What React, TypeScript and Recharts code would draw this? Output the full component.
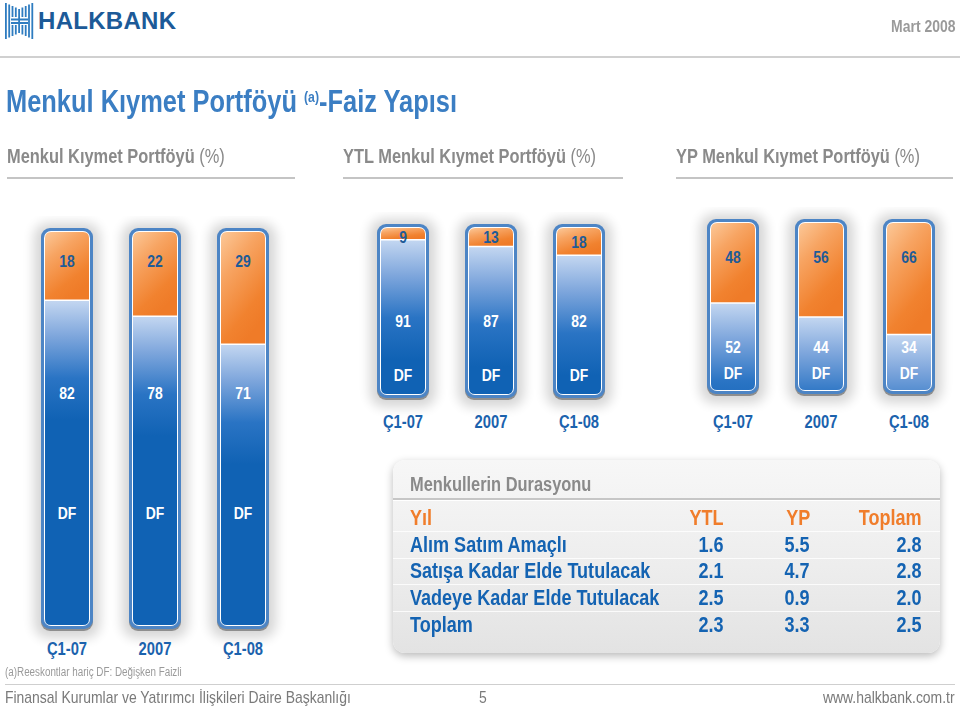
import React from 'react';
import { Bar, BarChart, LabelList, XAxis, YAxis } from 'recharts';

const FONT = "'Liberation Sans', Arial, sans-serif";
const K = 0.82; // horizontal squeeze to mimic a condensed face

// chart data (% shares, Sabit = fixed rate on top / DF = floating rate at bottom)
const periods = ['Ç1-07', '2007', 'Ç1-08'];
const totalFixed = [18, 22, 29];
const totalFloat = [82, 78, 71];
const ytlFixed = [9, 13, 18];
const ytlFloat = [91, 87, 82];
const ypFixed = [48, 56, 66];
const ypFloat = [52, 44, 34];

// duration table
const durationHeader = ['Yıl', 'YTL', 'YP', 'Toplam'];
const durationRows = ['Alım Satım Amaçlı', 'Satışa Kadar Elde Tutulacak', 'Vadeye Kadar Elde Tutulacak', 'Toplam'];
const durationYTL = [1.6, 2.1, 2.5, 2.3];
const durationYP = [5.5, 4.7, 0.9, 3.3];
const durationTotal = [2.8, 2.8, 2.0, 2.5];

interface ChartCfg {
  id: string;
  left: number;
  plotTop: number;
  plotHeight: number;
  fixedLabelY: number | null;
  floatLabelY: number;
  dfLabelY: number;
  tickY: number;
}

const TOP_PAD = 12;
const AXIS_H = 40;

function CText({ x, y, fill, size, children }: { x: number; y: number; fill: string; size: number; children: React.ReactNode }) {
  return (
    <text
      transform={`translate(${x} ${y}) scale(${K} 1)`}
      textAnchor="middle"
      dominantBaseline="central"
      fill={fill}
      fontFamily={FONT}
      fontWeight={700}
      fontSize={size}
    >
      {children}
    </text>
  );
}

function Frame(props: any) {
  const { x, y, width, height, fid } = props;
  return (
    <g>
      <rect x={x - 7} y={y - 5} width={width + 14} height={height + 14} rx={14} fill="#000" opacity={0.16} filter={`url(#${fid}-halo)`} />
      <rect x={x} y={y + 2} width={width} height={height} rx={9} fill="#8e8e8e" />
      <rect x={x} y={y} width={width} height={height} rx={9} fill="#4d85c5" />
      <rect x={x + 3} y={y + 3} width={width - 6} height={height - 6} rx={7} fill="#ffffff" />
    </g>
  );
}

function roundedPath(x: number, y: number, w: number, h: number, r: number, top: boolean) {
  if (h <= 0) return '';
  const rr = Math.min(r, h);
  if (top) {
    return `M${x},${y + h} L${x},${y + rr} Q${x},${y} ${x + rr},${y} L${x + w - rr},${y} Q${x + w},${y} ${x + w},${y + rr} L${x + w},${y + h} Z`;
  }
  return `M${x},${y} L${x + w},${y} L${x + w},${y + h - rr} Q${x + w},${y + h} ${x + w - rr},${y + h} L${x + rr},${y + h} Q${x},${y + h} ${x},${y + h - rr} Z`;
}

function FloatSegment(props: any) {
  const { x, y, width, height, index, fid } = props;
  const sx = x + 4;
  const sw = width - 8;
  const sh = height - 4;
  const gid = `${fid}-blue-${index}`;
  return (
    <g>
      <defs>
        <linearGradient id={gid} gradientUnits="userSpaceOnUse" x1={0} y1={y} x2={0} y2={y + 120}>
          <stop offset="0" stopColor="#c4d7f1" />
          <stop offset="0.3" stopColor="#7ea6dc" />
          <stop offset="0.65" stopColor="#2a74c4" />
          <stop offset="1" stopColor="#1062b4" />
        </linearGradient>
      </defs>
      <path d={roundedPath(sx, y, sw, sh, 6, false)} fill={`url(#${gid})`} />
    </g>
  );
}

function FixedSegment(props: any) {
  const { x, y, width, height, fid } = props;
  const sx = x + 4;
  const sw = width - 8;
  const sy = y + 4;
  const sh = height - 4;
  return (
    <g>
      <path d={roundedPath(sx, sy, sw, sh, 6, true)} fill={`url(#${fid}-orange)`} />
      <line x1={sx} x2={sx + sw} y1={y + height} y2={y + height} stroke="#ffffff" strokeWidth={1.5} />
    </g>
  );
}

function PortfolioBars({ cfg, fixed, float }: { cfg: ChartCfg; fixed: number[]; float: number[] }) {
  const data = periods.map((p, i) => ({ period: p, fixed: fixed[i], float: float[i] }));
  const chartTop = cfg.plotTop - TOP_PAD;
  const height = TOP_PAD + cfg.plotHeight + AXIS_H;
  const plotBottom = cfg.plotTop + cfg.plotHeight;
  return (
    <div style={{ position: 'absolute', left: cfg.left, top: chartTop }}>
      <BarChart
        width={264}
        height={height}
        data={data}
        margin={{ top: TOP_PAD, right: 0, bottom: 0, left: 0 }}
        barSize={52}
        style={{ overflow: 'visible' }}
      >
        <defs>
          <filter id={`${cfg.id}-halo`} x="-50%" y="-20%" width="200%" height="140%">
            <feGaussianBlur stdDeviation="6" />
          </filter>
          <linearGradient id={`${cfg.id}-orange`} x1="0" y1="0" x2="0.5" y2="1">
            <stop offset="0" stopColor="#fcc898" />
            <stop offset="0.35" stopColor="#f7a462" />
            <stop offset="0.8" stopColor="#f1822f" />
            <stop offset="1" stopColor="#ef7b28" />
          </linearGradient>
        </defs>
        <XAxis
          dataKey="period"
          axisLine={false}
          tickLine={false}
          tickSize={0}
          tickMargin={0}
          height={AXIS_H}
          interval={0}
          tick={(p: any) => (
            <CText x={p.x} y={p.y + (cfg.tickY - plotBottom)} fill="#1b62ad" size={18}>
              {p.payload.value}
            </CText>
          )}
        />
        <YAxis hide domain={[0, 100]} />
        <Bar
          dataKey="float"
          stackId="s"
          isAnimationActive={false}
          background={(p: any) => <Frame {...p} fid={cfg.id} />}
          shape={(p: any) => <FloatSegment {...p} fid={cfg.id} />}
        >
          <LabelList
            dataKey="float"
            content={(p: any) => {
              const cx = Number(p.x) + Number(p.width) / 2;
              return (
                <g>
                  <CText x={cx} y={cfg.floatLabelY - chartTop} fill="#ffffff" size={17}>{p.value}</CText>
                  <CText x={cx} y={cfg.dfLabelY - chartTop} fill="#ffffff" size={17}>DF</CText>
                </g>
              );
            }}
          />
        </Bar>
        <Bar
          dataKey="fixed"
          stackId="s"
          isAnimationActive={false}
          shape={(p: any) => <FixedSegment {...p} fid={cfg.id} />}
        >
          <LabelList
            dataKey="fixed"
            content={(p: any) => {
              const cx = Number(p.x) + Number(p.width) / 2;
              const cy =
                cfg.fixedLabelY != null
                  ? cfg.fixedLabelY - chartTop
                  : Math.max(Number(p.y) + 2 + Number(p.height) / 2, TOP_PAD + 13);
              return (
                <CText x={cx} y={cy} fill="#1e5b97" size={17}>
                  {p.value}
                </CText>
              );
            }}
          />
        </Bar>
      </BarChart>
    </div>
  );
}

const totalCfg: ChartCfg = { id: 'tot', left: 23, plotTop: 228, plotHeight: 401, fixedLabelY: 261, floatLabelY: 393, dfLabelY: 513, tickY: 648 };
const ytlCfg: ChartCfg = { id: 'ytl', left: 359, plotTop: 224, plotHeight: 174, fixedLabelY: null, floatLabelY: 321, dfLabelY: 375, tickY: 421 };
const ypCfg: ChartCfg = { id: 'yp', left: 689, plotTop: 219, plotHeight: 175, fixedLabelY: 257, floatLabelY: 347, dfLabelY: 373, tickY: 421 };

const squeezeL: React.CSSProperties = { transform: `scaleX(${K})`, transformOrigin: 'left top', whiteSpace: 'nowrap' };
const squeezeR: React.CSSProperties = { transform: `scaleX(${K})`, transformOrigin: 'right top', whiteSpace: 'nowrap' };

function SectionHeader({ left, width, title }: { left: number; width: number; title: string }) {
  return (
    <>
      <div
        style={{
          position: 'absolute',
          left,
          top: 144,
          fontFamily: FONT,
          fontSize: 20,
          color: '#8a8a8a',
          lineHeight: '24px',
          ...squeezeL,
        }}
      >
        <span style={{ fontWeight: 700 }}>{title}</span>
        <span> (%)</span>
      </div>
      <div style={{ position: 'absolute', left, top: 177, width, height: 2, background: '#c4c4c4' }} />
    </>
  );
}

function Logo() {
  const stripes = [0, 1, 2, 3, 4, 5, 6, 7, 8];
  return (
    <div style={{ position: 'absolute', left: 4, top: 3, display: 'flex', alignItems: 'center' }}>
      <svg width={31} height={36}>
        {stripes.map((i) => {
          const x = 1 + i * 3.3;
          const edge = Math.abs(i - 4);
          const inset = (4 - edge) * 1.5;
          if (edge <= 2 && edge >= 1) {
            return (
              <g key={i} fill="#2e7cc0">
                <rect x={x} y={inset} width={1.8} height={14 - inset} />
                <rect x={x} y={22} width={1.8} height={14 - inset} />
              </g>
            );
          }
          return <rect key={i} x={x} y={inset} width={1.8} height={36 - inset * 2} fill="#2e7cc0" />;
        })}
        <rect x={7} y={15.5} width={17} height={2} fill="#2e7cc0" />
        <rect x={7} y={19} width={17} height={2} fill="#2e7cc0" />
      </svg>
      <span
        style={{
          marginLeft: 3,
          fontFamily: FONT,
          fontWeight: 700,
          fontSize: 24,
          color: '#1c5a98',
          letterSpacing: 0.3,
        }}
      >
        HALKBANK
      </span>
    </div>
  );
}

export default function App() {
  const rowTop = [58, 85, 111, 138, 165];
  const colRight = [331, 417, 529];
  return (
    <div style={{ position: 'absolute', left: 0, top: 0, width: 960, height: 711, background: '#ffffff', overflow: 'hidden' }}>
      <Logo />
      <div style={{ position: 'absolute', right: 5, top: 17, fontFamily: FONT, fontSize: 17, color: '#9a9a9a', fontWeight: 700, ...squeezeR }}>
        Mart 2008
      </div>
      <div style={{ position: 'absolute', left: 0, top: 56, width: 960, height: 2, background: '#d0d0d0' }} />

      <div
        style={{
          position: 'absolute',
          left: 6,
          top: 78,
          fontFamily: FONT,
          fontWeight: 700,
          fontSize: 31,
          color: '#3b7ec3',
          lineHeight: '38px',
          ...squeezeL,
        }}
      >
        Menkul Kıymet Portföyü <span style={{ fontSize: 15, verticalAlign: 10 }}>(a)</span>-Faiz Yapısı
      </div>

      <SectionHeader left={7} width={288} title="Menkul Kıymet Portföyü" />
      <SectionHeader left={343} width={280} title="YTL Menkul Kıymet Portföyü" />
      <SectionHeader left={676} width={277} title="YP Menkul Kıymet Portföyü" />

      <PortfolioBars cfg={totalCfg} fixed={totalFixed} float={totalFloat} />
      <PortfolioBars cfg={ytlCfg} fixed={ytlFixed} float={ytlFloat} />
      <PortfolioBars cfg={ypCfg} fixed={ypFixed} float={ypFloat} />

      <div
        style={{
          position: 'absolute',
          left: 393,
          top: 460,
          width: 547,
          height: 193,
          borderRadius: 12,
          background: 'linear-gradient(180deg, #f7f7f7 0%, #ececec 60%, #e3e3e3 100%)',
          boxShadow: '0 3px 9px rgba(0,0,0,0.28)',
          fontFamily: FONT,
          fontWeight: 700,
        }}
      >
        <div style={{ position: 'absolute', left: 17, top: 12, fontSize: 20, color: '#8a8a8a', lineHeight: '24px', ...squeezeL }}>
          Menkullerin Durasyonu
        </div>
        <div style={{ position: 'absolute', left: 0, top: 38, width: 547, height: 2, background: '#c6c6c6', borderBottom: '1px solid #ffffff' }} />
        {[0, 1, 2, 3].map((i) => (
          <div key={i} style={{ position: 'absolute', left: 0, top: rowTop[i] + 13, width: 547, height: 1, background: '#ffffff', opacity: 0.8 }} />
        ))}
        {durationHeader.map((h, c) =>
          c === 0 ? (
            <div key={h} style={{ position: 'absolute', left: 17, top: rowTop[0] - 13, fontSize: 22, lineHeight: '26px', color: '#f07d2b', ...squeezeL }}>
              {h}
            </div>
          ) : (
            <div
              key={h}
              style={{ position: 'absolute', right: 547 - colRight[c - 1], top: rowTop[0] - 13, fontSize: 22, lineHeight: '26px', color: '#f07d2b', ...squeezeR }}
            >
              {h}
            </div>
          ),
        )}
        {durationRows.map((r, i) => {
          const vals = [durationYTL[i], durationYP[i], durationTotal[i]];
          const top = rowTop[i + 1] - 13;
          return (
            <React.Fragment key={r}>
              <div style={{ position: 'absolute', left: 17, top, fontSize: 22, lineHeight: '26px', color: '#1463b2', ...squeezeL }}>
                {r}
              </div>
              {vals.map((v, c) => (
                <div
                  key={c}
                  style={{ position: 'absolute', right: 547 - colRight[c], top, fontSize: 22, lineHeight: '26px', color: '#1463b2', ...squeezeR }}
                >
                  {v.toFixed(1)}
                </div>
              ))}
            </React.Fragment>
          );
        })}
      </div>

      <div style={{ position: 'absolute', left: 5, top: 665, fontFamily: FONT, fontSize: 12, color: '#9a9a9a', ...squeezeL }}>
        (a)Reeskontlar hariç DF: Değişken Faizli
      </div>
      <div style={{ position: 'absolute', left: 5, top: 684, width: 950, height: 1, background: '#cfcfcf' }} />
      <div style={{ position: 'absolute', left: 5, top: 688, fontFamily: FONT, fontSize: 17, color: '#7a7a7a', ...squeezeL }}>
        Finansal Kurumlar ve Yatırımcı İlişkileri Daire Başkanlığı
      </div>
      <div style={{ position: 'absolute', left: 479, top: 688, fontFamily: FONT, fontSize: 17, color: '#7a7a7a', ...squeezeL }}>5</div>
      <div style={{ position: 'absolute', right: 5, top: 688, fontFamily: FONT, fontSize: 17, color: '#7a7a7a', ...squeezeR }}>www.halkbank.com.tr</div>
    </div>
  );
}
